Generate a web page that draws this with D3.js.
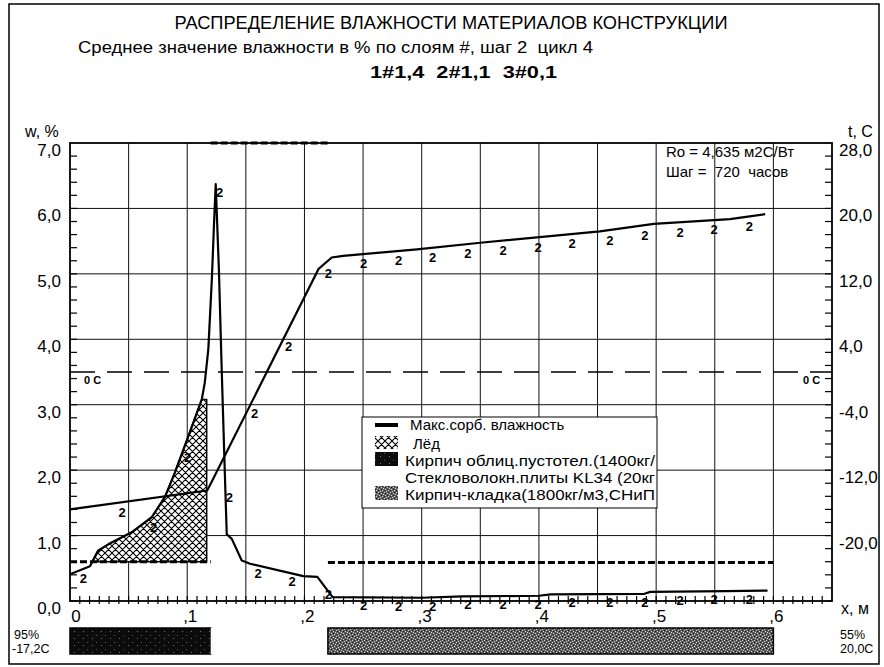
<!DOCTYPE html>
<html>
<head>
<meta charset="utf-8">
<script src="https://cdn.jsdelivr.net/npm/d3@7"></script>
<style>
  body { margin: 0; background: #fff; }
  text { font-family: "Liberation Sans", Arial, sans-serif; fill: #000; }
</style>
</head>
<body>
<div id="chart"></div>
<script>
// moisture curve, x in m, w in %
const moistX = [0, 0.017, 0.024, 0.033, 0.0526, 0.0697, 0.081, 0.0896, 0.101, 0.1124, 0.115, 0.118, 0.121, 0.123, 0.1243,
  0.127, 0.1294, 0.132, 0.1337, 0.138, 0.1465, 0.1536, 0.199, 0.211, 0.224, 0.30, 0.335, 0.40, 0.41, 0.49, 0.495, 0.56, 0.595];
const moistW = [0.41, 0.53, 0.77, 0.87, 1.05, 1.28, 1.59, 1.97, 2.52, 3.08, 3.34, 3.85, 4.92, 5.83, 6.37,
  5.07, 3.54, 2.0, 1.02, 0.95, 0.62, 0.57, 0.38, 0.37, 0.06, 0.05, 0.07, 0.08, 0.10, 0.11, 0.14, 0.15, 0.16];

// ice (upper edge), lower edge is the max sorption line of layer 1
const iceX = [0.019, 0.024, 0.033, 0.0526, 0.0697, 0.081, 0.0896, 0.101, 0.1124, 0.1166];
const iceW = [0.6, 0.77, 0.87, 1.05, 1.28, 1.59, 1.97, 2.52, 3.08, 3.08];

// temperature, C
const tempX = [0, 0.117, 0.121, 0.212, 0.2233, 0.233, 0.296, 0.35, 0.452, 0.498, 0.563, 0.593];
const tempT = [-16.8, -14.5, -13.4, 12.6, 14.0, 14.2, 15.0, 15.8, 17.2, 18.1, 18.7, 19.3];

// layers
const layerNames = ["Кирпич облиц.пустотел.(1400кг/", "Стекловолокн.плиты KL34 (20кг", "Кирпич-кладка(1800кг/м3,СНиП"];
const layerStart = [0, 0.12, 0.22];
const layerEnd = [0.12, 0.22, 0.6];
const sorbW = [0.6, 7.0, 0.59];

// "2" curve labels
const tempLabelX = [0.041, 0.154, 0.183, 0.217, 0.247, 0.277, 0.306, 0.336, 0.366, 0.396, 0.425, 0.457, 0.487, 0.517, 0.546, 0.576];
const moistLabelX = [0.008, 0.068, 0.097, 0.1243, 0.1325, 0.157, 0.186, 0.217, 0.247, 0.277, 0.306, 0.336, 0.366, 0.396, 0.425, 0.457, 0.487, 0.517, 0.546, 0.576];

const wTicks = [0, 1, 2, 3, 4, 5, 6, 7];
const tTicks = [28, 20, 12, 4, -4, -12, -20];
const xTicks = [0, 0.1, 0.2, 0.3, 0.4, 0.5, 0.6];
const xTickLabels = ["0", ",1", ",2", ",3", ",4", ",5", ",6"];

const svg = d3.select("#chart").append("svg")
  .attr("width", 884).attr("height", 667);

const xScale = d3.scaleLinear().domain([0, 0.65]).range([70, 832]);
const wScale = d3.scaleLinear().domain([0, 7]).range([601, 143]);
const tScale = d3.scaleLinear().domain([-28, 28]).range([601, 143]);
const fmt = v => d3.format(".1f")(v).replace(".", ",").replace("−", "-");

const defs = svg.append("defs");
const hatch = defs.append("pattern").attr("id", "hatch")
  .attr("patternUnits", "userSpaceOnUse").attr("width", 7).attr("height", 7);
hatch.append("rect").attr("width", 7).attr("height", 7).attr("fill", "#fff");
hatch.append("path").attr("d", "M0,0L7,7M7,0L0,7M-1,6L1,8M6,-1L8,1").attr("stroke", "#000").attr("stroke-width", 1.1);

const dark = defs.append("pattern").attr("id", "dark")
  .attr("patternUnits", "userSpaceOnUse").attr("width", 9).attr("height", 7);
dark.append("rect").attr("width", 9).attr("height", 7).attr("fill", "#0c0c0c");
dark.append("rect").attr("x", 2).attr("y", 1).attr("width", 1).attr("height", 1).attr("fill", "#777");
dark.append("rect").attr("x", 6).attr("y", 5).attr("width", 1).attr("height", 1).attr("fill", "#555");

const grey = defs.append("pattern").attr("id", "grey")
  .attr("patternUnits", "userSpaceOnUse").attr("width", 6).attr("height", 6);
grey.append("rect").attr("width", 6).attr("height", 6).attr("fill", "#5a5a5a");
grey.append("path").attr("d", "M0,0h1v1h-1zM3,1h1v1h-1zM1,3h1v1h-1zM4,4h1v1h-1zM5,2h1v1h-1zM2,5h1v1h-1z").attr("fill", "#d8d8d8");
grey.append("path").attr("d", "M1,1h1v1h-1zM4,0h1v1h-1zM0,4h1v1h-1zM3,3h1v1h-1z").attr("fill", "#222");

// outer frame
svg.append("rect").attr("x", 9).attr("y", 4).attr("width", 870).attr("height", 660)
  .attr("fill", "none").attr("stroke", "#000").attr("stroke-width", 1.5);

// titles
svg.append("text").attr("x", 451).attr("y", 29).attr("text-anchor", "middle")
  .attr("font-size", 18).attr("textLength", 553).attr("lengthAdjust", "spacingAndGlyphs")
  .text("РАСПРЕДЕЛЕНИЕ ВЛАЖНОСТИ МАТЕРИАЛОВ КОНСТРУКЦИИ");
svg.append("text").attr("x", 78).attr("y", 53).attr("font-size", 16)
  .attr("textLength", 515).attr("lengthAdjust", "spacingAndGlyphs").style("white-space", "pre")
  .text("Среднее значение влажности в % по слоям #, шаг 2  цикл 4");
svg.append("text").attr("x", 370).attr("y", 78).attr("font-size", 16).attr("font-weight", "bold")
  .attr("textLength", 187).attr("lengthAdjust", "spacingAndGlyphs").style("white-space", "pre")
  .text("1#1,4  2#1,1  3#0,1");

// grid
svg.append("g").selectAll("line").data([1, 2, 3, 4, 5, 6]).join("line")
  .attr("x1", xScale(0)).attr("x2", xScale(0.65))
  .attr("y1", d => wScale(d)).attr("y2", d => wScale(d))
  .attr("stroke", "#111").attr("stroke-width", 1);
svg.append("g").selectAll("line").data(d3.range(1, 13).map(i => i * 0.05)).join("line")
  .attr("x1", d => xScale(d)).attr("x2", d => xScale(d))
  .attr("y1", wScale(0)).attr("y2", wScale(7))
  .attr("stroke", "#111").attr("stroke-width", 1);

// minor ticks
const minorW = d3.range(0, 35).map(i => i * 0.2);
svg.append("g").selectAll("line").data(minorW).join("line")
  .attr("x1", xScale(0)).attr("x2", xScale(0) + 7)
  .attr("y1", d => wScale(d)).attr("y2", d => wScale(d))
  .attr("stroke", "#000").attr("stroke-width", 1.2);
svg.append("g").selectAll("line").data(minorW).join("line")
  .attr("x1", xScale(0.65) - 7).attr("x2", xScale(0.65))
  .attr("y1", d => wScale(d)).attr("y2", d => wScale(d))
  .attr("stroke", "#000").attr("stroke-width", 1.2);
svg.append("g").selectAll("line").data(d3.range(1, 78).map(i => i * 0.05 / 6)).join("line")
  .attr("x1", d => xScale(d)).attr("x2", d => xScale(d))
  .attr("y1", wScale(0) - 5).attr("y2", wScale(0) + 3)
  .attr("stroke", "#000").attr("stroke-width", 1.2);

// 0 C line
svg.append("line").attr("x1", xScale(0)).attr("x2", xScale(0.65))
  .attr("y1", tScale(0)).attr("y2", tScale(0))
  .attr("stroke", "#000").attr("stroke-width", 1.6).attr("stroke-dasharray", "25,12");
svg.append("text").attr("x", 84).attr("y", tScale(0) + 12).attr("font-size", 11).attr("font-weight", "bold").text("0 C");
svg.append("text").attr("x", 803).attr("y", tScale(0) + 12).attr("font-size", 11).attr("font-weight", "bold").text("0 C");

// ice area
const iceArea = d3.area()
  .x((d, i) => xScale(iceX[i]))
  .y0(wScale(sorbW[0]))
  .y1((d, i) => wScale(iceW[i]));
svg.append("path").datum(iceW).attr("d", iceArea)
  .attr("fill", "url(#hatch)").attr("stroke", "#000").attr("stroke-width", 1.5);

// max sorption lines
svg.append("g").selectAll("line").data(sorbW).join("line")
  .attr("x1", (d, i) => xScale(layerStart[i])).attr("x2", (d, i) => xScale(layerEnd[i]))
  .attr("y1", d => wScale(d)).attr("y2", d => wScale(d))
  .attr("stroke", "#000").attr("stroke-width", 3).attr("stroke-dasharray", "7,3");

// temperature
const tLine = d3.line().x((d, i) => xScale(tempX[i])).y(d => tScale(d));
svg.append("path").datum(tempT).attr("d", tLine)
  .attr("fill", "none").attr("stroke", "#000").attr("stroke-width", 2.2);

// moisture
const mLine = d3.line().x((d, i) => xScale(moistX[i])).y(d => wScale(d));
svg.append("path").datum(moistW).attr("d", mLine)
  .attr("fill", "none").attr("stroke", "#000").attr("stroke-width", 2.2).attr("stroke-linejoin", "round");

// curve labels
const tAt = d3.scaleLinear().domain(tempX).range(tempT);
const mAt = d3.scaleLinear().domain(moistX).range(moistW);
svg.append("g").selectAll("text").data(tempLabelX).join("text")
  .attr("x", d => xScale(d) + 4).attr("y", d => tScale(tAt(d)) + 14)
  .attr("text-anchor", "middle").attr("font-size", 13).attr("font-weight", "bold").text("2");
svg.append("g").selectAll("text").data(moistLabelX).join("text")
  .attr("x", d => xScale(d) + 4).attr("y", d => wScale(mAt(d)) + 13)
  .attr("text-anchor", "middle").attr("font-size", 13).attr("font-weight", "bold").text("2");

// plot frame
svg.append("rect").attr("x", xScale(0)).attr("y", wScale(7))
  .attr("width", xScale(0.65) - xScale(0)).attr("height", wScale(0) - wScale(7))
  .attr("fill", "none").attr("stroke", "#000").attr("stroke-width", 1.8);

// axis labels
svg.append("g").selectAll("text").data(wTicks).join("text")
  .attr("x", 61).attr("y", d => wScale(d) + 13)
  .attr("text-anchor", "end").attr("font-size", 17).text(d => fmt(d));
svg.append("g").selectAll("text").data(tTicks).join("text")
  .attr("x", 839).attr("y", d => tScale(d) + 13)
  .attr("font-size", 17).text(d => fmt(d));
svg.append("g").selectAll("text").data(xTicks).join("text")
  .attr("x", (d, i) => xScale(d) + (i === 0 ? 6 : 3)).attr("y", 622)
  .attr("text-anchor", "middle").attr("font-size", 17).text((d, i) => xTickLabels[i]);
svg.append("text").attr("x", 25).attr("y", 137).attr("font-size", 16).text("w, %");
svg.append("text").attr("x", 848).attr("y", 137).attr("font-size", 16).text("t, C");
svg.append("text").attr("x", 841).attr("y", 614).attr("font-size", 16).text("x, м");

// info
svg.append("text").attr("x", 666).attr("y", 157).attr("font-size", 15).style("white-space", "pre")
  .text("Ro = 4,635 м2С/Вт");
svg.append("text").attr("x", 666).attr("y", 177).attr("font-size", 15).style("white-space", "pre")
  .text("Шаг =  720  часов");

// legend
const lg = svg.append("g");
lg.append("rect").attr("x", 362).attr("y", 417).attr("width", 295).attr("height", 91)
  .attr("fill", "#fff").attr("stroke", "#000").attr("stroke-width", 1);
lg.append("line").attr("x1", 375).attr("x2", 398).attr("y1", 425).attr("y2", 425)
  .attr("stroke", "#000").attr("stroke-width", 4);
lg.append("text").attr("x", 410).attr("y", 430).attr("font-size", 15).text("Макс.сорб. влажность");
lg.append("rect").attr("x", 375).attr("y", 436).attr("width", 23).attr("height", 13).attr("fill", "url(#hatch)");
lg.append("text").attr("x", 413).attr("y", 449).attr("font-size", 15).text("Лёд");
const legendFills = ["url(#dark)", "none", "url(#grey)"];
layerNames.forEach((name, i) => {
  const yy = 452 + i * 17;
  lg.append("rect").attr("x", 375).attr("y", yy).attr("width", 23).attr("height", 14).attr("fill", legendFills[i]);
  lg.append("text").attr("x", 405).attr("y", yy + 14).attr("font-size", 15)
    .attr("textLength", 250).attr("lengthAdjust", "spacingAndGlyphs").text(name);
});

// layer bar
const barFills = ["url(#dark)", "#fff", "url(#grey)"];
svg.append("g").selectAll("rect").data(layerNames).join("rect")
  .attr("x", (d, i) => xScale(layerStart[i])).attr("y", 628)
  .attr("width", (d, i) => xScale(layerEnd[i]) - xScale(layerStart[i])).attr("height", 26)
  .attr("fill", (d, i) => barFills[i])
  .attr("stroke", (d, i) => i === 1 ? "none" : "#000").attr("stroke-width", 1.5);

svg.append("text").attr("x", 14).attr("y", 639).attr("font-size", 12.5).text("95%");
svg.append("text").attr("x", 12).attr("y", 653).attr("font-size", 12.5).text("-17,2C");
svg.append("text").attr("x", 840).attr("y", 639).attr("font-size", 12.5).text("55%");
svg.append("text").attr("x", 840).attr("y", 653).attr("font-size", 12.5).text("20,0C");
</script>
</body>
</html>
